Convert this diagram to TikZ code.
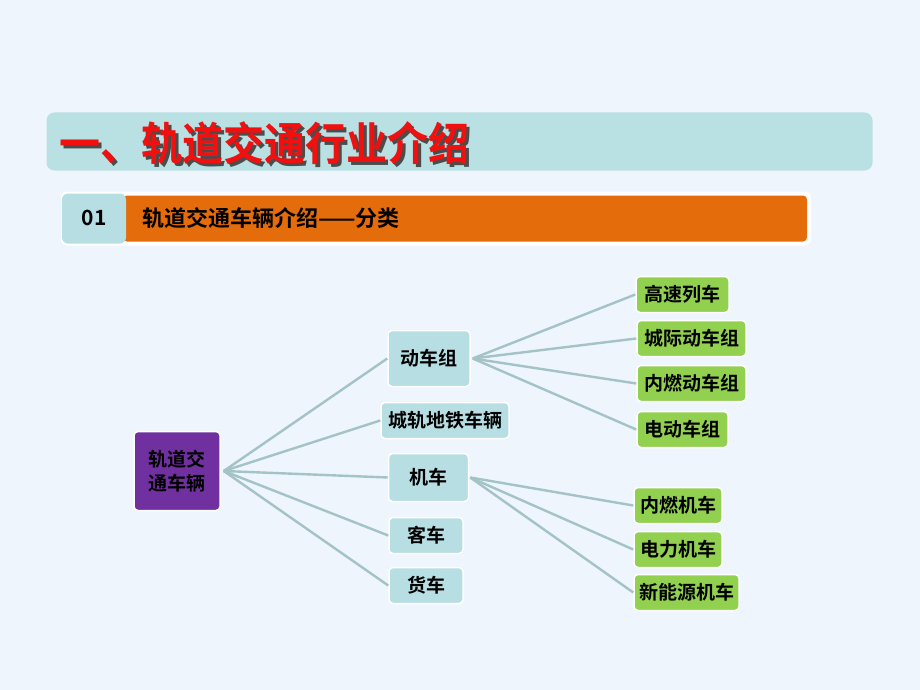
\documentclass[tikz,border=0pt]{standalone}
\usepackage{fontspec}
\setmainfont{Noto Sans CJK SC}[BoldFont=* Bold]
\definecolor{bgc}{HTML}{EEF5FC}
\definecolor{titlebar}{HTML}{B9E0E2}
\definecolor{titlered}{HTML}{F01010}
\definecolor{orangebar}{HTML}{E46C0A}
\definecolor{lvlone}{HTML}{B7DEE3}
\definecolor{lvltwo}{HTML}{92D050}
\definecolor{rootc}{HTML}{7030A0}
\definecolor{edgec}{HTML}{A3C3C7}
\tikzset{
  box/.style={draw=white, line width=1.5pt, rounded corners=4pt, inner sep=0pt, font=\fontsize{19}{21}\selectfont\bfseries, text=black},
  lone/.style={box, fill=lvlone},
  ltwo/.style={box, fill=lvltwo},
  link/.style={draw=edgec, line width=2.4pt}
}
\begin{document}
\begin{tikzpicture}[x=1pt,y=-1pt]
\fill[bgc] (0,0) rectangle (920,690);
\useasboundingbox (0,0) rectangle (920,690);
% title bar
\node[fill=titlebar, rounded corners=8pt, minimum width=826pt, minimum height=58pt, inner sep=0pt] (tbar) at (459.5,141.5) {};
\node[anchor=west, font=\fontsize{41}{43}\selectfont\bfseries, text=black!70, inner sep=0pt, yscale=1.1, transform shape] (tshadow) at (62.5,146) {一、轨道交通行业介绍};
\node[anchor=west, font=\fontsize{41}{43}\selectfont\bfseries, text=titlered, inner sep=0pt, yscale=1.1, transform shape] (ttext) at (59.5,143) {一、轨道交通行业介绍};
% subtitle bar
\node[fill=white, rounded corners=6pt, minimum width=750pt, minimum height=54pt, inner sep=0pt] (sbar) at (436,218.5) {};
\node[fill=orangebar, rounded corners=4pt, minimum width=684pt, minimum height=46pt, inner sep=0pt] (obar) at (465,218.5) {};
\node[fill=lvlone, rounded corners=6pt, minimum width=64pt, minimum height=50pt, inner sep=0pt] (num) at (94,218.5) {};
\node[font=\fontsize{21}{23}\selectfont\bfseries, inner sep=0pt] (numt) at (94,218) {01};
\node[anchor=west, font=\fontsize{22}{24}\selectfont\bfseries, inner sep=0pt] (stext) at (142,218) {轨道交通车辆介绍——分类};
% root
\node[box, fill=rootc, minimum width=86pt, minimum height=79pt, align=center, font=\fontsize{19}{24}\selectfont\bfseries] (root) at (177,471) {轨道交\\通车辆};
% level one
\node[lone, minimum width=82pt, minimum height=56pt] (dcz) at (429,358.5) {动车组};
\node[lone, minimum width=128pt, minimum height=36pt] (cg) at (445,420.5) {城轨地铁车辆};
\node[lone, minimum width=80pt, minimum height=48pt] (jc) at (428.5,477.5) {机车};
\node[lone, minimum width=74pt, minimum height=36pt] (kc) at (426,535.5) {客车};
\node[lone, minimum width=74pt, minimum height=36pt] (hc) at (426,585.5) {货车};
% level two
\node[ltwo, minimum width=93pt, minimum height=36pt] (a1) at (682.5,294.5) {高速列车};
\node[ltwo, minimum width=109pt, minimum height=36pt] (a2) at (691.5,338.5) {城际动车组};
\node[ltwo, minimum width=109pt, minimum height=36pt] (a3) at (691.5,383.5) {内燃动车组};
\node[ltwo, minimum width=91pt, minimum height=36pt] (a4) at (682.5,429.5) {电动车组};
\node[ltwo, minimum width=88pt, minimum height=36pt] (b1) at (678,505.5) {内燃机车};
\node[ltwo, minimum width=88pt, minimum height=36pt] (b2) at (678,549.5) {电力机车};
\node[ltwo, minimum width=105pt, minimum height=36pt] (b3) at (686.5,592.5) {新能源机车};
% connectors
\coordinate (r0) at ([xshift=3pt]root.east);
\coordinate (d0) at ([xshift=2pt]dcz.east);
\coordinate (j0) at ([xshift=1pt]jc.east);
\draw[link] (r0) -- (dcz.west);
\draw[link] (r0) -- (cg.west);
\draw[link] (r0) -- (jc.west);
\draw[link] (r0) -- (kc.west);
\draw[link] (r0) -- (hc.west);
\draw[link] (d0) -- (a1.west);
\draw[link] (d0) -- (a2.west);
\draw[link] (d0) -- (a3.west);
\draw[link] (d0) -- (a4.west);
\draw[link] (j0) -- (b1.west);
\draw[link] (j0) -- (b2.west);
\draw[link] (j0) -- (b3.west);
\end{tikzpicture}
\end{document}
